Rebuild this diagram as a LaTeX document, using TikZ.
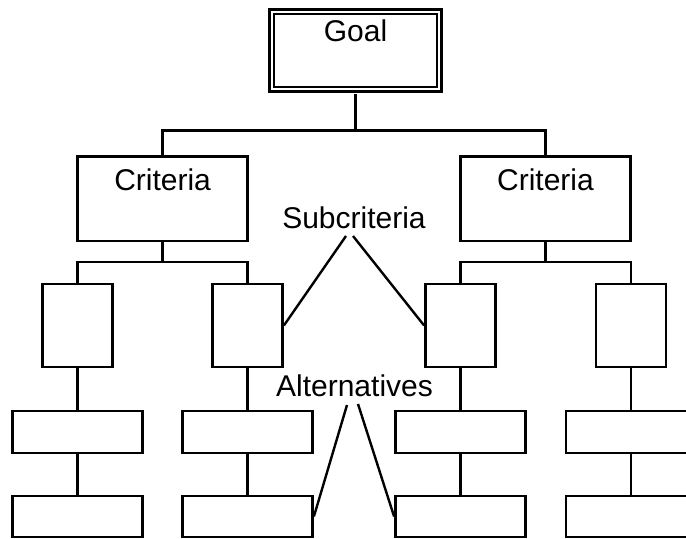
\documentclass[tikz,border=0pt]{standalone}
\usepackage{fontspec}
\setmainfont{Liberation Sans}
\begin{document}
\begin{tikzpicture}[x=0.5pt,y=-0.5pt,
  box/.style={draw,line width=1.4pt,inner sep=0pt,font=\fontsize{15}{18}\selectfont},
  critbox/.style={box,minimum width=85.1pt,text height=17.25pt,text depth=25pt},
  subbox/.style={box,minimum width=35pt,minimum height=41.5pt},
  altbox/.style={box,minimum width=65pt,minimum height=21pt},
  altboxb/.style={box,minimum width=65pt,minimum height=20.5pt},
  conn/.style={line width=1.4pt},
  annot/.style={line width=1.2pt},
  lbl/.style={inner sep=0pt,anchor=base,font=\fontsize{15}{18}\selectfont}]
\clip (0,0) rectangle (686,539);
% goal
\node[box,double,line width=1.15pt,double distance=1pt,minimum width=83.9pt,
      text height=15.2pt,text depth=23.7pt] (goal) at (355.5,50.5) {Goal};
% criteria
\node[critbox] (critL) at (162.6,198.75) {Criteria};
\node[critbox] (critR) at (545.5,198.75) {Criteria};
% subcriteria
\node[subbox] (sL1) at (77.5,325.5) {};
\node[subbox] (sL2) at (247.5,325.5) {};
\node[subbox] (sR1) at (460.5,325.5) {};
\node[subbox] (sR2) at (631,325.5) {};
% alternatives
\node[altbox] (a1) at (77.5,432) {};
\node[altbox] (a2) at (247.5,432) {};
\node[altbox] (a3) at (460.5,432) {};
\node[altbox] (a4) at (631,432) {};
\node[altboxb] (b1) at (77.5,516.5) {};
\node[altboxb] (b2) at (247.5,516.5) {};
\node[altboxb] (b3) at (460.5,516.5) {};
\node[altboxb] (b4) at (631,516.5) {};
% labels
\node[lbl] (lblS) at (354,228.5) {Subcriteria};
\node[lbl] (lblA) at (354.5,397) {Alternatives};
% tree connectors
\coordinate (bus0) at (355.5,130.7);
\coordinate (busL) at (162.6,262);
\coordinate (busR) at (545.5,262);
\draw[conn] ([yshift=-1.65pt]goal.south) -- (bus0);
\draw[conn] (critL.north) |- (bus0) -| (critR.north);
\draw[conn] (critL.south) -- (busL);
\draw[conn] (critR.south) -- (busR);
\draw[conn] (sL1.north) |- (busL) -| (sL2.north);
\draw[conn] (sR1.north) |- (busR) -| (sR2.north);
\draw[conn] (sL1.south) -- (a1.north) (a1.south) -- (b1.north);
\draw[conn] (sL2.south) -- (a2.north) (a2.south) -- (b2.north);
\draw[conn] (sR1.south) -- (a3.north) (a3.south) -- (b3.north);
\draw[conn] (sR2.south) -- (a4.north) (a4.south) -- (b4.north);
% annotation lines
\coordinate (sTipL) at (346,236);
\coordinate (sTipR) at (353,236);
\coordinate (aTipL) at (347,405);
\coordinate (aTipR) at (358,404);
\draw[annot] (sTipL) -- (sL2.east);
\draw[annot] (sTipR) -- (sR1.west);
\draw[annot] (aTipL) -- (b2.east);
\draw[annot] (aTipR) -- (b3.west);
\end{tikzpicture}
\end{document}
